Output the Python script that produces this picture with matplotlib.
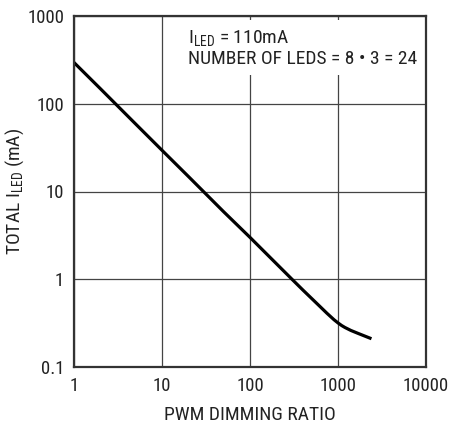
import matplotlib
matplotlib.use("Agg")
import matplotlib.pyplot as plt

ratio = [1, 2, 5, 10, 20, 50, 100, 200, 300, 400, 500, 600, 750, 900, 1000, 1100, 1200, 1400, 1700, 2400]
i_total = [295, 148, 59, 29.5, 14.8, 5.9, 3.0, 1.5, 1.0, 0.752, 0.606, 0.508, 0.409, 0.346,
           0.318, 0.297, 0.282, 0.261, 0.241, 0.21]

xticks = [1, 10, 100, 1000, 10000]
xlabels = ["1", "10", "100", "1000", "10000"]
yticks = [0.1, 1, 10, 100, 1000]
ylabels = ["0.1", "1", "10", "100", "1000"]

plt.rcParams['font.family'] = ['Roboto Condensed', 'DejaVu Sans']
plt.rcParams['mathtext.fontset'] = 'custom'
plt.rcParams['mathtext.rm'] = 'Roboto Condensed'

fig = plt.figure(figsize=(4.52, 4.26), dpi=100)
ax = fig.add_axes([74/452, 1-367/426, 352/452, 351/426])

ax.plot(ratio, i_total, color='black', lw=2.3, solid_capstyle='butt',
        solid_joinstyle='round', zorder=3)

ax.set_xscale('log')
ax.set_yscale('log')
ax.set_xlim(1, 10000)
ax.set_ylim(0.1, 1000)
ax.set_xticks(xticks)
ax.set_xticklabels(xlabels)
ax.set_yticks(yticks)
ax.set_yticklabels(ylabels)
ax.minorticks_off()
ax.tick_params(length=0, labelsize=13.5, colors='#222222', pad=7)
ax.grid(True, color='#444444', lw=0.9)
for s in ax.spines.values():
    s.set_linewidth(1.6)
    s.set_color('#333333')
    s.set_zorder(6)

ax.set_xlabel("PWM DIMMING RATIO", fontsize=14, color='#222222', va='center')
ax.xaxis.set_label_coords(0.5, -0.137)
ax.set_ylabel("TOTAL I$_{\\mathregular{LED}}$ (mA)", fontsize=14, color='#222222', va='center')
ax.yaxis.set_label_coords(-0.168, 0.5)

ax.text(0.325, 0.965, "I$_{\\mathregular{LED}}$ = 110mA\nNUMBER OF LEDS = 8 • 3 = 24",
        transform=ax.transAxes, ha='left', va='top', fontsize=14, color='#222222',
        linespacing=1.1, zorder=4,
        bbox=dict(facecolor='white', edgecolor='none', pad=5))

fig.savefig("out.png", dpi=100)
